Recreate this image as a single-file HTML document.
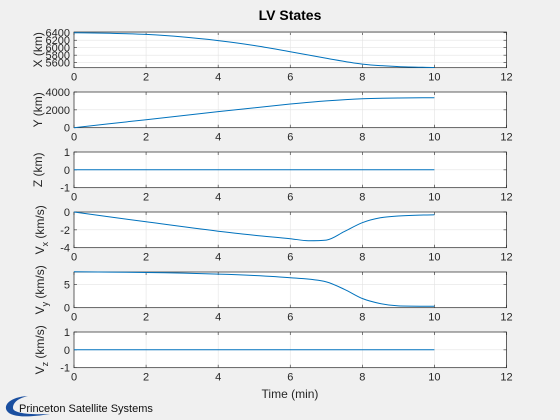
<!DOCTYPE html>
<html><head><meta charset="utf-8"><style>
body{margin:0;background:#f0f0f0;}
svg{display:block;font-family:"Liberation Sans",sans-serif;}
</style></head><body>
<svg id="fig" width="560" height="420" viewBox="0 0 560 420">
<rect width="560" height="420" fill="#f0f0f0"/>
<text x="290" y="20" text-anchor="middle" font-size="14" font-weight="bold" fill="#000">LV States</text>
<text x="290" y="398" text-anchor="middle" font-size="12" fill="#262626">Time (min)</text>
<g>
<path d="M28,396 C10,397 3,405 7,411 C11,417 26,418 50,414 C28,415 13,413 13,408 C13,402 19,398 28,396 Z" fill="#1a4fa0"/>
<text x="19" y="412" font-size="11" fill="#111">Princeton Satellite Systems</text>
</g>
<g id="plots"></g>
</svg>
<script>
const timeX=[0,1,2,3,4,5,6,7,8,9,10];
const xKm=[6400,6385,6355,6290,6190,6060,5893,5717,5560,5495,5470];
const timeY=[0,2,4,6,7,8,9,10];
const yKm=[0,900,1800,2650,3000,3250,3330,3361];
const timeZ=[0,10];
const zKm=[0,0];
const timeVx=[0,2,4,5,6,6.5,7,7.5,8,8.5,9,10];
const vx=[0,-1.1,-2.15,-2.6,-2.99,-3.22,-3.15,-2.2,-1.2,-0.65,-0.45,-0.3];
const timeVy=[0,2,4,5,6,7,7.5,8,8.5,9,10];
const vy=[7.8,7.65,7.3,7.0,6.5,5.6,4.0,2.0,0.9,0.4,0.3];
const timeVz=[0,10];
const vz=[0,0];
const xTicks=[0,2,4,6,8,10,12];
const panels=[
 {name:'x-position',label:'X (km)',t:timeX,v:xKm,ymin:5465,ymax:6420,ticks:[5600,5800,6000,6200,6400],top:32},
 {name:'y-position',label:'Y (km)',t:timeY,v:yKm,ymin:0,ymax:4000,ticks:[0,2000,4000],top:92},
 {name:'z-position',label:'Z (km)',t:timeZ,v:zKm,ymin:-1,ymax:1,ticks:[-1,0,1],top:152},
 {name:'x-velocity',label:'V',sub:'x',t:timeVx,v:vx,ymin:-4,ymax:0,ticks:[-4,-2,0],top:212},
 {name:'y-velocity',label:'V',sub:'y',t:timeVy,v:vy,ymin:0,ymax:7.75,ticks:[0,5],top:272},
 {name:'z-velocity',label:'V',sub:'z',t:timeVz,v:vz,ymin:-1,ymax:1,ticks:[-1,0,1],top:332}
];
const L=74,R=506.5,H=35.7,NS='http://www.w3.org/2000/svg';
const g=document.getElementById('plots');
function mk(tag,attrs,parent){const e=document.createElementNS(NS,tag);for(const k in attrs)e.setAttribute(k,attrs[k]);parent.appendChild(e);return e;}
const sx=t=>L+(t-0)/(12-0)*(R-L);
function smoothPath(xs,ys){
 const n=xs.length;if(n<3){return 'M'+xs.map((x,i)=>x.toFixed(1)+','+ys[i].toFixed(1)).join(' L');}
 const d=[],m=new Array(n);
 for(let i=0;i<n-1;i++)d.push((ys[i+1]-ys[i])/(xs[i+1]-xs[i]));
 m[0]=d[0];m[n-1]=d[n-2];
 for(let i=1;i<n-1;i++){m[i]=(d[i-1]*d[i]<=0)?0:(d[i-1]+d[i])/2;}
 for(let i=0;i<n-1;i++){if(d[i]===0){m[i]=0;m[i+1]=0;continue;}const a=m[i]/d[i],b=m[i+1]/d[i],s=a*a+b*b;if(s>9){const t=3/Math.sqrt(s);m[i]=t*a*d[i];m[i+1]=t*b*d[i];}}
 let p='M'+xs[0].toFixed(1)+','+ys[0].toFixed(1);
 for(let i=0;i<n-1;i++){const h=(xs[i+1]-xs[i])/3;
  p+=' C'+(xs[i]+h).toFixed(1)+','+(ys[i]+m[i]*h).toFixed(1)+' '+(xs[i+1]-h).toFixed(1)+','+(ys[i+1]-m[i+1]*h).toFixed(1)+' '+xs[i+1].toFixed(1)+','+ys[i+1].toFixed(1);}
 return p;
}
panels.forEach(p=>{
 const sy=v=>p.top+H-(v-p.ymin)/(p.ymax-p.ymin)*H;
 const ax=mk('g',{},g);
 
 
 mk('rect',{x:L,y:p.top,width:R-L,height:H,fill:'#fff'},ax);
 xTicks.forEach(t=>{
  mk('line',{x1:sx(t),x2:sx(t),y1:p.top,y2:p.top+H,stroke:'#e3e3e3','stroke-width':0.6},ax);
  mk('line',{x1:sx(t),x2:sx(t),y1:p.top+H,y2:p.top+H-3,stroke:'#262626','stroke-width':0.6},ax);
  mk('line',{x1:sx(t),x2:sx(t),y1:p.top,y2:p.top+3,stroke:'#262626','stroke-width':0.6},ax);
  const tx=mk('text',{x:sx(t),y:p.top+H+13,'text-anchor':'middle','font-size':11,fill:'#262626'},ax);
  tx.textContent=t;
  
  
 });
 p.ticks.forEach(v=>{
  mk('line',{x1:L,x2:R,y1:sy(v),y2:sy(v),stroke:'#e3e3e3','stroke-width':0.6},ax);
  mk('line',{x1:L,x2:L+3,y1:sy(v),y2:sy(v),stroke:'#262626','stroke-width':0.6},ax);
  mk('line',{x1:R,x2:R-3,y1:sy(v),y2:sy(v),stroke:'#262626','stroke-width':0.6},ax);
  const ty=mk('text',{x:L-4,y:sy(v)+4,'text-anchor':'end','font-size':11,fill:'#262626'},ax);
  ty.textContent=v;
  
  
 });
 mk('rect',{x:L,y:p.top,width:R-L,height:H,fill:'none',stroke:'#262626','stroke-width':0.7},ax);
 const ln=mk('path',{d:smoothPath(p.t.map(sx),p.v.map(sy)),fill:'none',stroke:'#0072bd','stroke-width':1,'stroke-linejoin':'round'},ax);
 
 
 const cy=p.top+H/2;
 const yl=mk('text',{transform:`translate(${p.sub?44:42},${cy}) rotate(-90)`,'text-anchor':'middle','font-size':12,fill:'#262626'},ax);
 if(p.sub){
  const a=mk('tspan',{},yl);a.textContent='V';
  const b=mk('tspan',{dy:4,'font-size':9},yl);b.textContent=p.sub;
  const c=mk('tspan',{dy:-4},yl);c.textContent=' (km/s)';
 } else yl.textContent=p.label;
 
 
});
</script>
</body></html>
